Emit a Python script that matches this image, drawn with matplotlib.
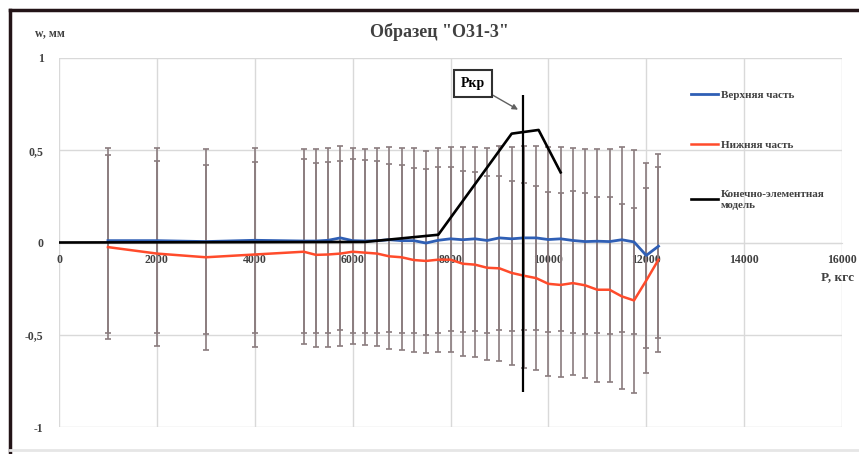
import matplotlib.pyplot as plt
from matplotlib.lines import Line2D

# loads, kgf
P = [1000, 2000, 3000, 4000, 5000, 5250, 5500, 5750, 6000, 6250, 6500, 6750,
     7000, 7250, 7500, 7750, 8000, 8250, 8500, 8750, 9000, 9250, 9500, 9750,
     10000, 10250, 10500, 10750, 11000, 11250, 11500, 11750, 12000, 12250]

# deflection of the upper part, mm
w_upper = [0.010, 0.010, 0.005, 0.012, 0.008, 0.008, 0.012, 0.025, 0.010, 0.008,
           0.010, 0.015, 0.010, 0.010, -0.003, 0.012, 0.020, 0.015, 0.020, 0.011,
           0.025, 0.020, 0.025, 0.025, 0.016, 0.020, 0.011, 0.005, 0.007, 0.005,
           0.015, 0.003, -0.070, -0.020]

# deflection of the lower part, mm
w_lower = [-0.025, -0.060, -0.080, -0.065, -0.050, -0.067, -0.065, -0.060, -0.050,
           -0.055, -0.060, -0.075, -0.080, -0.095, -0.100, -0.093, -0.093, -0.115,
           -0.120, -0.137, -0.140, -0.165, -0.180, -0.193, -0.224, -0.230, -0.220,
           -0.232, -0.256, -0.256, -0.292, -0.314, -0.206, -0.093]

w_err = 0.5

# finite element model
P_fem = [0, 6250, 7750, 9250, 9800, 10250]
w_fem = [0.0, 0.003, 0.042, 0.59, 0.61, 0.38]

# critical load marker
P_cr = 9480
w_cr_lims = [-0.81, 0.80]

x_ticks = [0, 2000, 4000, 6000, 8000, 10000, 12000, 14000, 16000]
y_ticks = [-1, -0.5, 0, 0.5, 1]
y_labels = ["-1", "-0,5", "0", "0,5", "1"]

serif = "Liberation Serif"
txt_col = "#404040"
err_col = "#8a7c7e"
grid_col = "#d9d9d9"

W, H = 859, 454
fig = plt.figure(figsize=(W / 100, H / 100), dpi=100)
ax = fig.add_axes([59 / W, 27 / H, (842 - 59) / W, (427 - 58) / H])

ax.errorbar(P, w_upper, yerr=w_err, fmt="none", ecolor=err_col,
            elinewidth=1.2, capsize=2.5, capthick=1.2, zorder=2)
ax.errorbar(P, w_lower, yerr=w_err, fmt="none", ecolor=err_col,
            elinewidth=1.2, capsize=2.5, capthick=1.2, zorder=2)

l1, = ax.plot(P, w_upper, color="#2f5fb5", lw=2.0, zorder=4)
l2, = ax.plot(P, w_lower, color="#ff4b2b", lw=1.8, zorder=4)
l3, = ax.plot(P_fem, w_fem, color="black", lw=1.9, zorder=5)
ax.vlines(P_cr, w_cr_lims[0], w_cr_lims[1], color="black", lw=1.6, zorder=6)

ax.set_xlim(0, 16000)
ax.set_ylim(-1, 1)
ax.set_xticks(x_ticks)
ax.set_yticks(y_ticks)
ax.set_xticklabels([str(t) for t in x_ticks])
ax.set_yticklabels(y_labels)
ax.grid(True, color=grid_col, lw=1.0, zorder=0)
ax.set_axisbelow(True)

for s in ["top", "right", "left"]:
    ax.spines[s].set_visible(False)
ax.spines["bottom"].set_position(("data", 0))
ax.spines["bottom"].set_color(grid_col)
ax.spines["bottom"].set_zorder(1)
ax.tick_params(axis="both", length=0, labelsize=8.5, labelcolor=txt_col)
ax.tick_params(axis="x", pad=8)
ax.tick_params(axis="y", pad=11)
for lab in ax.get_xticklabels() + ax.get_yticklabels():
    lab.set_fontfamily(serif)
    lab.set_fontweight("bold")

fig.text(439 / W, 1 - 32 / H, 'Образец "О31-3"', ha="center", va="center",
         fontsize=13, fontweight="bold", family=serif, color=txt_col)
fig.text(35 / W, 1 - 33 / H, "w, мм", ha="left", va="center",
         fontsize=8.5, fontweight="bold", family=serif, color=txt_col)
fig.text(821 / W, 1 - 277 / H, "P, кгс", ha="left", va="center",
         fontsize=9.5, fontweight="bold", family=serif, color=txt_col)

ax.annotate("Ркр", xy=(9380, 0.72), xytext=(8460, 0.86),
            ha="center", va="center", fontsize=10, fontweight="bold",
            family=serif, color="black",
            bbox=dict(boxstyle="square,pad=0.5", fc="white", ec="#303030", lw=1.5),
            arrowprops=dict(arrowstyle="-|>", color="#606060", lw=1.0,
                            shrinkA=0, shrinkB=0, mutation_scale=8),
            zorder=7)

leg = ax.legend([l1, l2, l3],
                ["Верхняя часть", "Нижняя часть", "Конечно-элементная\nмодель"],
                loc="upper left", bbox_to_anchor=(685 / W, 1 - 85 / H),
                bbox_transform=fig.transFigure, frameon=False,
                handlelength=2.5, handletextpad=0.2, labelspacing=3.6,
                borderpad=0, prop={"family": serif, "weight": "bold", "size": 8})
for t in leg.get_texts():
    t.set_color(txt_col)

# outer frame of the chart
fig.add_artist(Line2D([10 / W, 10 / W], [0, 1 - 10 / H], color="#231417", lw=2.5,
                      transform=fig.transFigure))
fig.add_artist(Line2D([10 / W, 1], [1 - 10 / H, 1 - 10 / H], color="#231417", lw=2.5,
                      transform=fig.transFigure))
fig.add_artist(Line2D([10 / W, 1], [4 / H, 4 / H], color="#e6e6e6", lw=2,
                      transform=fig.transFigure))

fig.savefig("out.png", dpi=100)
